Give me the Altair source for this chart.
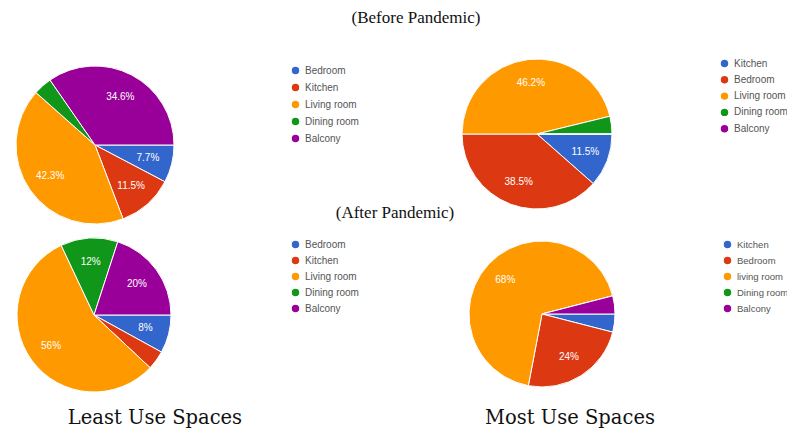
import math
import altair as alt
import pandas as pd

# ---- data ----
least_before_rooms = ["Bedroom", "Kitchen", "Living room", "Dining room", "Balcony"]
least_before_values = [7.7, 11.5, 42.3, 3.8, 34.6]

most_before_rooms = ["Kitchen", "Bedroom", "Living room", "Dining room", "Balcony"]
most_before_values = [11.5, 38.5, 46.2, 3.8, 0]

least_after_rooms = ["Bedroom", "Kitchen", "Living room", "Dining room", "Balcony"]
least_after_values = [8, 4, 56, 12, 20]

most_after_rooms = ["Kitchen", "Bedroom", "living room", "Dining room", "Balcony"]
most_after_values = [4, 24, 68, 0, 4]

headings = ["(Before Pandemic)", "(After Pandemic)"]
captions = ["Least Use Spaces", "Most Use Spaces"]

google_colors = ["#3366cc", "#dc3912", "#ff9900", "#109618", "#990099"]

START = math.pi / 2


def pie_layers(rooms, values, cx, cy, r, lx, ly, row_pad=2, font_size=10):
    df = pd.DataFrame({
        "room": rooms,
        "value": values,
        "idx": list(range(len(rooms))),
        "label": [f"{v:g}%" if v >= 5 else "" for v in values],
    })
    theta = alt.Theta("value:Q", stack=True,
                      scale=alt.Scale(range=[START, START + 2 * math.pi]))
    arc = alt.Chart(df).mark_arc(radius=r, stroke="white", strokeWidth=1).encode(
        theta=theta,
        order=alt.Order("idx:Q"),
        x=alt.value(cx),
        y=alt.value(cy),
        color=alt.Color(
            "room:N",
            sort=rooms,
            scale=alt.Scale(domain=rooms, range=google_colors),
            legend=alt.Legend(
                orient="none", legendX=lx, legendY=ly, title=None,
                symbolType="circle", symbolSize=80,
                labelFont="Liberation Sans", labelFontSize=font_size,
                labelColor="#555555", rowPadding=row_pad, padding=0,
            ),
        ),
    )
    text = alt.Chart(df).mark_text(
        radius=r * 0.69, fontSize=10, color="white", font="Liberation Sans"
    ).encode(
        theta=theta,
        order=alt.Order("idx:Q"),
        x=alt.value(cx),
        y=alt.value(cy),
        text="label:N",
    )
    return [arc, text]


def label_layer(txt, x, y, font, size, baseline="middle"):
    d = pd.DataFrame({"t": [txt]})
    return alt.Chart(d).mark_text(
        font=font, fontSize=size, color="#111111", align="center", baseline=baseline
    ).encode(text="t:N", x=alt.value(x), y=alt.value(y))


layers = []
layers += pie_layers(least_before_rooms, least_before_values, 87, 137, 79, 282, 57)
layers += pie_layers(most_before_rooms, most_before_values, 529, 126, 75, 711, 50, row_pad=1.3, font_size=10)
layers += pie_layers(least_after_rooms, least_after_values, 86, 307, 77, 282, 231, row_pad=1)
layers += pie_layers(most_after_rooms, most_after_values, 534, 306, 73, 714, 231, row_pad=1, font_size=9.5)

layers.append(label_layer(headings[0], 408, 10, "Liberation Serif", 17))
layers.append(label_layer(headings[1], 387, 205, "Liberation Serif", 17))
layers.append(label_layer(captions[0], 147, 416, "DejaVu Serif", 19.5, "alphabetic"))
layers.append(label_layer(captions[1], 562, 416, "DejaVu Serif", 19.5, "alphabetic"))

chart = alt.layer(*layers).resolve_scale(
    theta="independent", color="independent"
).properties(
    width=779, height=422, padding=0, autosize="none"
).configure_view(stroke=None)

chart.save("out.html", embed_options={"renderer": "svg", "actions": False})
